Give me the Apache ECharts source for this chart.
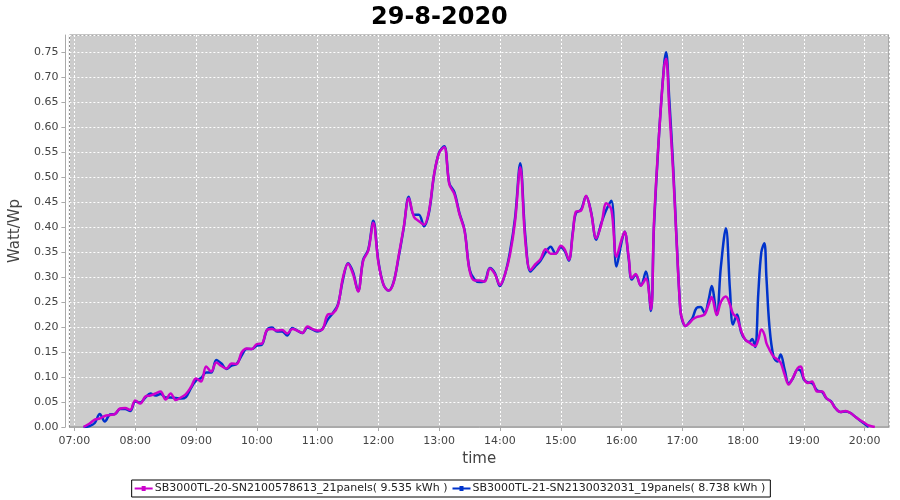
<!DOCTYPE html>
<html>
<head>
<meta charset="utf-8">
<script src="https://cdn.jsdelivr.net/npm/echarts@6/dist/echarts.min.js"></script>
<style>
html,body{margin:0;padding:0;background:#fff;}
#chart{width:900px;height:500px;}
</style>
</head>
<body>
<div id="chart"></div>
<script>
const chartTitle = '29-8-2020';
const yAxisName = 'Watt/Wp';
const xAxisName = 'time';
const seriesNames = [
  'SB3000TL-20-SN2100578613_21panels( 9.535 kWh )',
  'SB3000TL-21-SN2130032031_19panels( 8.738 kWh )'
];
const times = ['07:09','07:15','07:20','07:25','07:30','07:35','07:40','07:45','07:50','07:55',
'08:00','08:05','08:10','08:15','08:20','08:25','08:30','08:35','08:40','08:45','08:50','08:55',
'09:00','09:05','09:10','09:15','09:20','09:25','09:30','09:35','09:40','09:45','09:50','09:55',
'10:00','10:05','10:10','10:15','10:20','10:25','10:30','10:35','10:40','10:45','10:50','10:55',
'11:00','11:05','11:10','11:15','11:20','11:25','11:30','11:35','11:40','11:45','11:50','11:55',
'12:00','12:05','12:10','12:15','12:20','12:25','12:30','12:35','12:40','12:45','12:50','12:55',
'13:00','13:05','13:10','13:15','13:20','13:25','13:30','13:35','13:40','13:45','13:50','13:55',
'14:00','14:05','14:10','14:15','14:20','14:25','14:30','14:35','14:40','14:45','14:50','14:55',
'15:00','15:04','15:08','15:12','15:15','15:20','15:25','15:30','15:35','15:40','15:45','15:50','15:55',
'16:00','16:03','16:07','16:10','16:14','16:19','16:24','16:29','16:32','16:37','16:42','16:44','16:47','16:51','16:54','16:58',
'17:00','17:03','17:07','17:10','17:14','17:18','17:22','17:26','17:29','17:34','17:38','17:43','17:47','17:50','17:54','17:58',
'18:02','18:06','18:09','18:12','18:15','18:18','18:21','18:23','18:26','18:30','18:34','18:37','18:41','18:45','18:49','18:54','18:57',
'19:00','19:04','19:08','19:13','19:18','19:22','19:27','19:31','19:36','19:41','19:46','19:51','19:56',
'20:00','20:04','20:10'];
const valuesA = [0.000,0.007,0.015,0.017,0.022,0.024,0.026,0.037,0.038,0.034,
0.053,0.047,0.061,0.063,0.067,0.071,0.055,0.067,0.054,0.059,0.066,0.080,
0.097,0.091,0.121,0.111,0.129,0.122,0.117,0.127,0.126,0.149,0.157,0.156,
0.166,0.167,0.194,0.196,0.193,0.194,0.187,0.196,0.193,0.188,0.201,0.196,
0.193,0.196,0.225,0.227,0.243,0.299,0.327,0.306,0.271,0.333,0.353,0.409,
0.329,0.285,0.273,0.289,0.343,0.400,0.458,0.421,0.412,0.405,0.433,0.506,
0.549,0.560,0.486,0.466,0.426,0.393,0.313,0.293,0.293,0.291,0.317,0.306,
0.284,0.306,0.346,0.413,0.520,0.373,0.314,0.326,0.336,0.356,0.347,0.347,
0.363,0.355,0.335,0.388,0.431,0.433,0.463,0.428,0.378,0.405,0.448,0.435,0.341,
0.375,0.391,0.341,0.298,0.306,0.283,0.297,0.235,0.408,0.585,0.721,0.737,0.641,0.508,0.385,0.235,
0.215,0.202,0.208,0.215,0.220,0.222,0.225,0.245,0.260,0.224,0.250,0.261,0.245,0.227,0.218,0.193,
0.175,0.169,0.165,0.162,0.175,0.195,0.185,0.168,0.155,0.141,0.135,0.129,0.105,0.085,0.098,0.118,0.121,
0.097,0.088,0.091,0.071,0.071,0.058,0.050,0.038,0.030,0.032,0.028,0.020,0.013,
0.008,0.003,0.000];
const valuesB = [0.000,0.002,0.008,0.026,0.011,0.025,0.026,0.036,0.036,0.032,
0.051,0.049,0.059,0.067,0.063,0.066,0.059,0.059,0.058,0.057,0.060,0.078,
0.093,0.098,0.109,0.109,0.134,0.127,0.116,0.123,0.126,0.143,0.156,0.156,
0.163,0.165,0.194,0.199,0.191,0.191,0.183,0.198,0.193,0.188,0.199,0.195,
0.191,0.197,0.215,0.228,0.245,0.295,0.328,0.310,0.272,0.335,0.355,0.413,
0.332,0.285,0.273,0.290,0.340,0.398,0.461,0.425,0.425,0.402,0.430,0.505,
0.550,0.562,0.488,0.470,0.428,0.395,0.315,0.295,0.290,0.292,0.318,0.308,
0.282,0.306,0.352,0.420,0.528,0.383,0.311,0.322,0.333,0.349,0.361,0.347,
0.360,0.352,0.333,0.392,0.428,0.435,0.462,0.430,0.375,0.408,0.435,0.453,0.321,
0.370,0.391,0.338,0.295,0.304,0.283,0.311,0.232,0.400,0.585,0.725,0.750,0.660,0.520,0.390,0.235,
0.213,0.202,0.210,0.218,0.238,0.240,0.228,0.255,0.282,0.224,0.320,0.398,0.275,0.205,0.225,0.190,
0.175,0.170,0.176,0.160,0.268,0.350,0.368,0.300,0.201,0.141,0.131,0.145,0.115,0.087,0.097,0.115,0.112,
0.095,0.089,0.088,0.073,0.070,0.058,0.051,0.038,0.030,0.031,0.028,0.020,0.012,
0.006,0.000,null];

function ts(hhmm){
  const p = hhmm.split(':');
  return new Date(2020, 7, 29, +p[0], +p[1]).getTime();
}
function pairs(vals){
  const out = [];
  for (let i = 0; i < times.length; i++) {
    if (vals[i] !== null && vals[i] !== undefined) out.push([ts(times[i]), vals[i]]);
  }
  return out;
}
const colorA = '#cc00cc';
const colorB = '#0033cc';
const font = 'DejaVu Sans';
const legendIcon = 'path://M0,4L7,4L7,2.5L11,2.5L11,4L18,4L18,6L11,6L11,7.5L7,7.5L7,6L0,6Z';

const chart = echarts.init(document.getElementById('chart'), null, {renderer:'canvas'});
chart.setOption({
  animation: false,
  backgroundColor: '#ffffff',
  title: {
    text: chartTitle, left: 366, top: 1,
    textStyle: {fontFamily: font, fontWeight: 'bold', fontSize: 24, color: '#000'}
  },
  legend: {
    bottom: 3, left: 'center',
    data: [seriesNames[0], seriesNames[1]],
    orient: 'horizontal',
    borderColor: '#000', borderWidth: 1, backgroundColor: '#fff',
    padding: [3, 5, 3, 3], itemGap: 5, itemWidth: 18, itemHeight: 6,
    icon: legendIcon,
    textStyle: {fontFamily: font, fontSize: 11, color: '#222', padding: [0,0,0,-3]}
  },
  grid: {
    left: 68, right: 11, top: 35, bottom: 73,
    show: true, backgroundColor: '#cccccc', borderColor: '#888888', borderWidth: 1
  },
  xAxis: {
    type: 'time',
    min: ts('06:55'), max: ts('20:24'),
    minInterval: 3600*1000, maxInterval: 3600*1000,
    offset: 4,
    name: xAxisName, nameLocation: 'middle', nameGap: 21,
    nameTextStyle: {fontFamily: font, fontSize: 15, color: '#444', verticalAlign: 'top'},
    axisLine: {show: true, lineStyle: {color: '#aaaaaa'}},
    axisTick: {show: true, length: 4, lineStyle: {color: '#aaaaaa'}},
    axisLabel: {
      fontFamily: font, fontSize: 11, color: '#444', margin: 5,
      showMinLabel: false, showMaxLabel: false, hideOverlap: false,
      formatter: function(v){
        const d = new Date(v);
        return String(d.getHours()).padStart(2,'0') + ':' + String(d.getMinutes()).padStart(2,'0');
      }
    },
    splitLine: {show: true, lineStyle: {color: '#ffffff', type: [2,2], width: 1}},
    minorTick: {show: false}
  },
  yAxis: {
    type: 'value', min: 0, max: 0.7846, interval: 0.05,
    offset: 4,
    name: yAxisName, nameLocation: 'middle', nameGap: 42, nameRotate: 90,
    nameTextStyle: {fontFamily: font, fontSize: 15, color: '#444'},
    axisLine: {show: true, lineStyle: {color: '#aaaaaa'}},
    axisTick: {show: true, length: 4, lineStyle: {color: '#aaaaaa'}},
    axisLabel: {
      fontFamily: font, fontSize: 11, color: '#444', margin: 7, showMaxLabel: false,
      formatter: function(v){ return v.toFixed(2); }
    },
    splitLine: {show: true, lineStyle: {color: '#ffffff', type: [2,2], width: 1}}
  },
  series: [
    {
      name: seriesNames[1], type: 'line', data: pairs(valuesB),
      smooth: 0.35, showSymbol: false, color: colorB,
      lineStyle: {width: 2.5, color: colorB}, z: 2
    },
    {
      name: seriesNames[0], type: 'line', data: pairs(valuesA),
      smooth: 0.35, showSymbol: false, color: colorA,
      lineStyle: {width: 2.5, color: colorA}, z: 3
    }
  ]
});
</script>
</body>
</html>
